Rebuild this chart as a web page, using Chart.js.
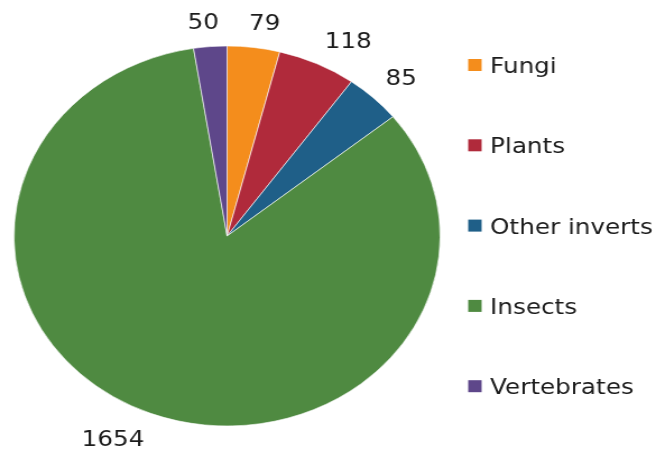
<!DOCTYPE html>
<html>
<head>
<meta charset="utf-8">
<script src="https://cdn.jsdelivr.net/npm/chart.js@4"></script>
<style>
html,body{margin:0;padding:0;background:#fff;overflow:hidden;}
#wrap{width:656px;height:453px;position:relative;}
#c{position:absolute;left:0;top:0;transform-origin:0 0;transform:scaleX(1.12137);}
</style>
</head>
<body>
<div id="wrap"><canvas id="c" width="585" height="453" style="width:585px;height:453px"></canvas></div>
<script>
const categories = ["Fungi", "Plants", "Other inverts", "Insects", "Vertebrates"];
const values = [79, 118, 85, 1654, 50];
const colors = ["#F48D1C", "#B02A3B", "#1F5F88", "#4F8A41", "#5E478A"];

const FONT = '22px "DejaVu Sans", sans-serif';
const TEXT = '#1c1c1c';
const CAP = 16;

const labelPlugin = {
  id: 'outLabels',
  afterDraw(chart) {
    const ctx = chart.ctx;
    const meta = chart.getDatasetMeta(0);
    ctx.save();
    ctx.font = FONT;
    ctx.fillStyle = TEXT;
    ctx.textAlign = 'center';
    ctx.textBaseline = 'alphabetic';
    meta.data.forEach((arc, i) => {
      const mid = (arc.startAngle + arc.endAngle) / 2;
      const s = Math.cos(mid), c = Math.sin(mid);
      const r = arc.outerRadius * 1.082;
      const txt = String(chart.data.datasets[0].data[i]);
      const w = ctx.measureText(txt).width, h = 20;
      const x = arc.x + r * s + (w / 2) * Math.sign(s) * Math.min(1, Math.abs(s) * 4.5);
      const y = arc.y + r * c + (h / 2) * Math.sign(c) * Math.min(1, Math.abs(c) * 4.5);
      ctx.fillText(txt, x, y + CAP / 2);
    });
    ctx.restore();
  }
};

const legendPlugin = {
  id: 'sideLegend',
  afterDraw(chart) {
    const ctx = chart.ctx;
    const ds = chart.data.datasets[0];
    ctx.save();
    ctx.font = FONT;
    ctx.textBaseline = 'alphabetic';
    ctx.textAlign = 'left';
    const x0 = 417.5, y0 = 65, step = 80.3, box = 12;
    chart.data.labels.forEach((lab, i) => {
      const y = y0 + i * step;
      ctx.fillStyle = ds.backgroundColor[i];
      ctx.fillRect(x0, y - box / 2, box, box);
      ctx.fillStyle = TEXT;
      ctx.fillText(lab, 437, y + CAP / 2);
    });
    ctx.restore();
  }
};

new Chart(document.getElementById('c'), {
  type: 'pie',
  data: {
    labels: categories,
    datasets: [{
      data: values,
      backgroundColor: colors,
      borderColor: 'rgba(255,255,255,0.6)',
      borderWidth: 1
    }]
  },
  options: {
    responsive: false,
    animation: false,
    radius: 190,
    layout: { padding: { top: 46, bottom: 27, left: 12.5, right: 192.5 } },
    plugins: {
      legend: { display: false },
      tooltip: { enabled: false }
    }
  },
  plugins: [labelPlugin, legendPlugin]
});
</script>
</body>
</html>
